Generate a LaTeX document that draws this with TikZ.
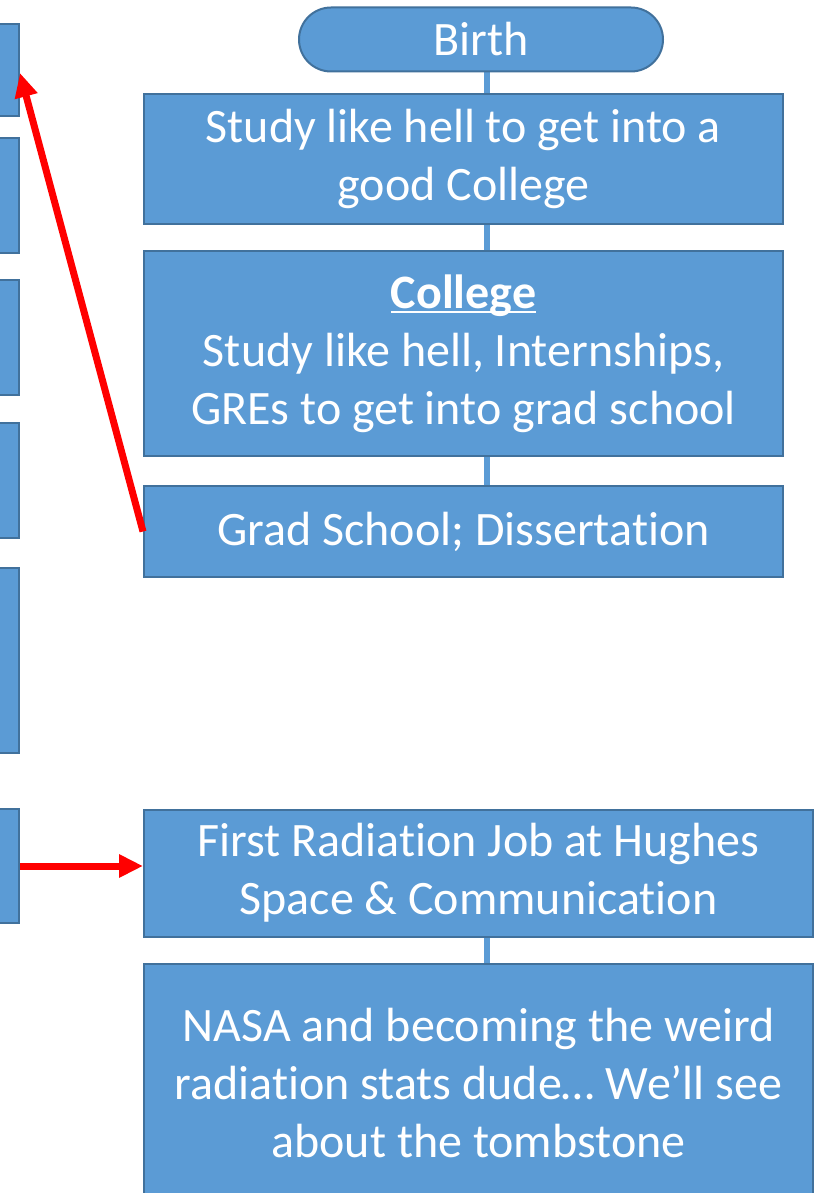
\documentclass[tikz,border=0pt]{standalone}
\usepackage{fontspec}
\setmainfont{Carlito}[Ligatures=NoCommon]
\usetikzlibrary{arrows.meta,calc,backgrounds}
\definecolor{boxfill}{HTML}{5B9BD5}
\definecolor{boxline}{HTML}{41719C}
\newcommand{\thickul}[1]{\setbox0=\hbox{#1}\leavevmode\rlap{\rule[-5pt]{\wd0}{2.5pt}}\box0}
\begin{document}
\begin{tikzpicture}[x=1pt,y=-1pt,
  card/.style={draw=boxline,fill=boxfill,line width=2pt,text=white,align=center,
    inner sep=0pt,font=\fontsize{48}{58}\selectfont},
  link/.style={draw=boxfill,line width=5.5pt},
  jump/.style={draw=red,line width=7pt,-{Triangle[length=24pt,width=22pt]}}]
\clip (0,0) rectangle (821,1193);

% column of stages on the right
\node[card,rounded corners=32pt,minimum width=364pt,minimum height=64pt] (birth) at (481,39.5) {Birth};
\node[card,minimum width=639pt,minimum height=129pt] (study) at (463.5,159)
  {Study like hell to get into a\\good College};
\node[card,minimum width=639pt,minimum height=205pt] (college) at (463.5,353.5)
  {\thickul{\textbf{College}}\\Study like hell, Internships,\\GREs to get into grad school};
\node[card,minimum width=639pt,minimum height=91pt] (grad) at (463.5,531.5)
  {Grad School; Dissertation};
\node[card,minimum width=669pt,minimum height=127pt] (job) at (478.5,873)
  {First Radiation Job at Hughes\\Space \& Communication};
\node[card,minimum width=669pt,minimum height=238pt] (nasa) at (478.5,1083)
  {NASA and becoming the weird\\radiation stats dude… We’ll see\\about the tombstone};

% column of stages at the left edge
\node[card,minimum width=40pt,minimum height=92pt]  (l1) at (-1,70) {};
\node[card,minimum width=40pt,minimum height=115pt] (l2) at (-1,195.5) {};
\node[card,minimum width=40pt,minimum height=115pt] (l3) at (-1,337.5) {};
\node[card,minimum width=40pt,minimum height=115pt] (l4) at (-1,480.5) {};
\node[card,minimum width=40pt,minimum height=185pt] (l5) at (-1,660.5) {};
\node[card,minimum width=40pt,minimum height=114pt] (l6) at (-1,866) {};

\coordinate (spine) at (487,0);

\begin{scope}[on background layer]
  \fill[white] (0,0) rectangle (821,1193);
  \draw[link] (birth.south -| spine) -- (study.north -| spine);
  \draw[link] (study.south -| spine) -- (college.north -| spine);
  \draw[link] (college.south -| spine) -- (grad.north -| spine);
  \draw[link] (job.south -| spine) -- (nasa.north -| spine);
\end{scope}

% jumps between the two columns
\draw[jump] (grad.west) -- ($(l1.east)+(0,3)$);
\draw[jump] (l6.east) -- (l6.east -| job.west);
\end{tikzpicture}
\end{document}
